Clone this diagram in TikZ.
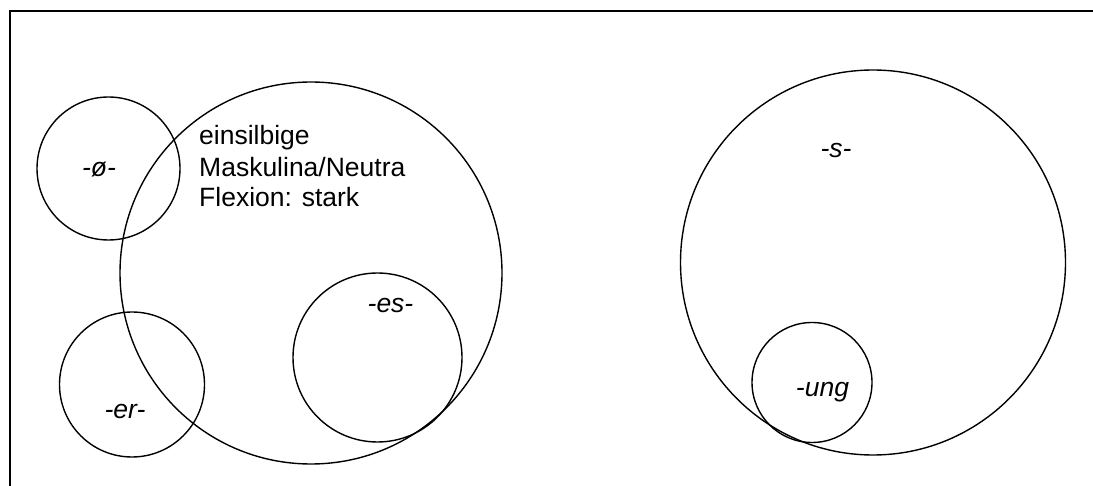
\documentclass[tikz,border=0pt]{standalone}
\usepackage{fontspec}
\setmainfont{Liberation Sans}
\begin{document}
\begin{tikzpicture}[x=1pt,y=-1pt,
  ring/.style={circle,draw,line width=1.4pt,inner sep=0pt},
  lab/.style={font=\fontsize{26.5}{30}\selectfont\itshape,inner sep=0pt,anchor=base},
  txt/.style={font=\fontsize{26.5}{30}\selectfont,inner sep=0pt,anchor=base west}]
\useasboundingbox (0,0) rectangle (1093,486);
% frame (only top and left edges visible)
\coordinate (ftr) at (1093,11);
\coordinate (ftl) at (9.5,11);
\coordinate (fbl) at (9.5,486);
\draw[line width=2pt] (ftr) -- (ftl) -- (fbl);
% circles
\node[ring,minimum size=143pt] (phi) at (108.5,168.5) {};
\node[ring,minimum size=382pt] (big) at (311,273) {};
\node[ring,minimum size=145pt] (er) at (132,384.5) {};
\node[ring,minimum size=169pt] (es) at (377.5,357.5) {};
\node[ring,minimum size=385pt] (sc) at (873,262.5) {};
\node[ring,minimum size=120pt] (ung) at (812,382.5) {};
% labels
\node[lab] (phil) at (99,177) {-ø-};
\node[lab] (esl) at (390.5,313) {-es-};
\node[lab] (erl) at (125,418) {-er-};
\node[lab] (sl) at (836,158) {-s-};
\node[lab] (ungl) at (822.5,396) {-ung};
\node[txt] (t1) at (199,145) {einsilbige};
\node[txt] (t2) at (199,177) {Maskulina/Neutra};
\node[txt] (t3) at (199,207) {Flexion: stark};
\end{tikzpicture}
\end{document}
